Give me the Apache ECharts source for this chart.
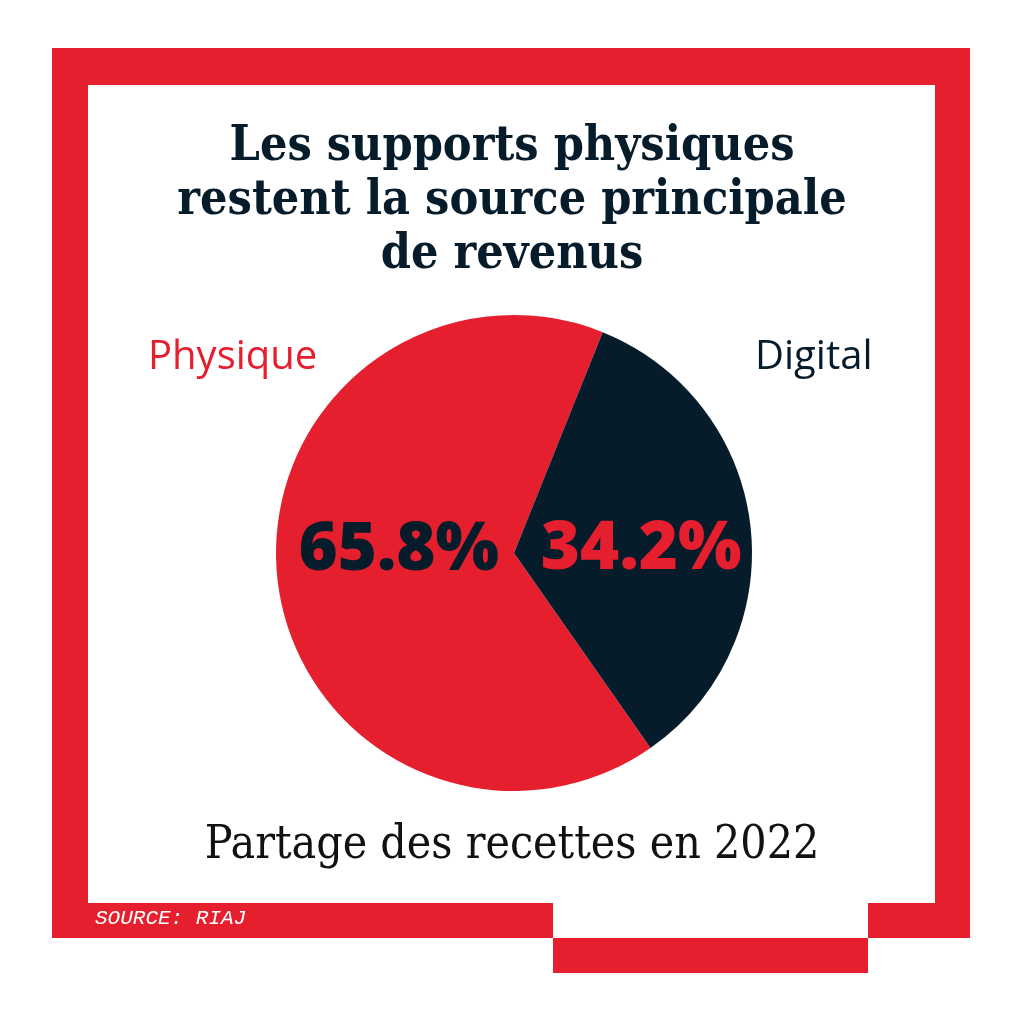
<!doctype html>
<html>

<head>
    <meta charset="utf-8">
    <title>Partage des recettes en 2022</title>
    <style>
        html, body {
            margin: 0;
            padding: 0;
            background: #ffffff;
        }

        #chart {
            width: 1024px;
            height: 1024px;
        }
    </style>
</head>

<body>
    <div id="chart"></div>
    <script src="https://cdn.jsdelivr.net/npm/echarts@6/dist/echarts.min.js"></script>
    <script>
        // data
        var categories = ['Physique', 'Digital'];
        var shares = [65.8, 34.2];
        var titleLines = ['Les supports physiques', 'restent la source principale', 'de revenus'];
        var subtitle = 'Partage des recettes en 2022';
        var source = 'SOURCE: RIAJ';

        var red = '#e61f2e';
        var navy = '#071c2b';

        // slice look: fill, label colour, label shadow, label nudge
        var looks = [
            { fill: red, text: navy, shadow: '#bb000d', offset: [6, -16] },
            { fill: navy, text: red, shadow: '#000000', offset: [6, 11] }
        ];

        var pieData = categories.map(function (name, i) {
            return {
                name: name,
                value: shares[i],
                itemStyle: { color: looks[i].fill },
                label: {
                    color: looks[i].text,
                    textShadowColor: looks[i].shadow,
                    offset: looks[i].offset
                }
            };
        });

        var myChart = echarts.init(document.getElementById('chart'), null, { renderer: 'canvas' });

        var frame = [
            [52, 48, 918, 37],   // top
            [52, 48, 36, 890],   // left
            [935, 48, 35, 890],  // right
            [52, 903, 501, 35],  // bottom left (source)
            [553, 938, 315, 35], // bottom middle, stepped down
            [868, 903, 102, 35]  // bottom right
        ].map(function (r) {
            return {
                type: 'rect',
                shape: { x: r[0], y: r[1], width: r[2], height: r[3] },
                style: { fill: red },
                silent: true
            };
        });

        var labelFont = '40px "Open Sans", "Noto Sans", sans-serif';

        var option = {
            backgroundColor: '#ffffff',
            animation: false,
            title: [{
                text: titleLines.join('\n'),
                left: 'center',
                top: 116,
                textStyle: {
                    fontFamily: 'DejaVu Serif Condensed, DejaVu Serif',
                    fontWeight: 'bold',
                    fontSize: 48,
                    lineHeight: 54,
                    color: navy
                }
            }, {
                text: subtitle,
                left: 'center',
                top: 818,
                textStyle: {
                    fontFamily: 'DejaVu Serif Condensed, DejaVu Serif',
                    fontWeight: 'normal',
                    fontSize: 46,
                    color: '#111111'
                }
            }],
            graphic: frame.concat([{
                type: 'text',
                left: 95,
                top: 908,
                silent: true,
                style: {
                    text: source,
                    fill: '#ffffff',
                    font: 'italic 21px "Liberation Mono", "DejaVu Sans Mono", monospace'
                }
            }, {
                type: 'text',
                left: 148,
                top: 338,
                silent: true,
                style: {
                    text: categories[0],
                    fill: red,
                    font: labelFont
                }
            }, {
                type: 'text',
                left: 755,
                top: 338,
                silent: true,
                style: {
                    text: categories[1],
                    fill: navy,
                    font: labelFont
                }
            }]),
            series: [{
                type: 'pie',
                center: [514, 553],
                radius: 238,
                startAngle: -55,
                clockwise: true,
                silent: true,
                data: pieData,
                label: {
                    show: true,
                    position: 'inside',
                    formatter: '{c}%',
                    fontFamily: 'Open Sans, Noto Sans, sans-serif',
                    fontWeight: 800,
                    fontSize: 67,
                    textShadowBlur: 0,
                    textShadowOffsetX: 3,
                    textShadowOffsetY: 4
                },
                labelLine: { show: false },
                itemStyle: { borderWidth: 0 }
            }]
        };
        myChart.setOption(option);
    </script>
</body>

</html>
